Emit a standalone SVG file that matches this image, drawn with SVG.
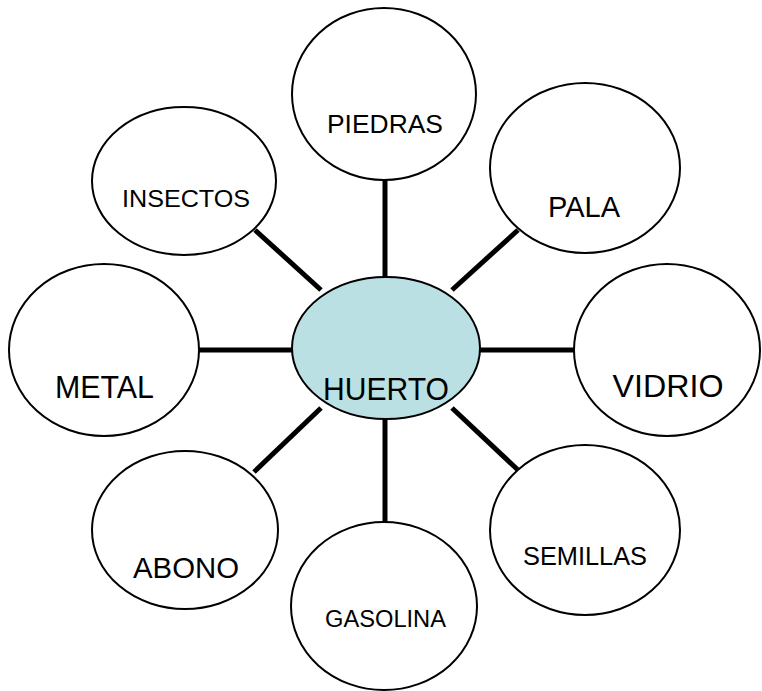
<svg xmlns="http://www.w3.org/2000/svg" width="762" height="691" viewBox="0 0 762 691">
<style>
.n{fill:#ffffff;stroke:#000;stroke-width:2}
.c{fill:#bbe0e3;stroke:#000;stroke-width:2}
.l{fill:#000;font-family:"Liberation Sans",Arial,sans-serif;text-anchor:middle}
.e{stroke:#000;stroke-width:5;fill:none}
</style>
<rect width="762" height="691" fill="#ffffff"/>
<g id="connectors">
<line class="e" x1="385" y1="180" x2="385" y2="280"/>
<line class="e" x1="385" y1="417" x2="385" y2="523"/>
<line class="e" x1="198" y1="350" x2="293" y2="350"/>
<line class="e" x1="479" y1="350" x2="575" y2="350"/>
<line class="e" x1="255" y1="230" x2="321" y2="290"/>
<line class="e" x1="518" y1="230" x2="452" y2="290"/>
<line class="e" x1="321" y1="408" x2="254" y2="472"/>
<line class="e" x1="452" y1="408" x2="518" y2="470"/>
</g>
<g id="piedras"><ellipse class="n" cx="384" cy="94" rx="92" ry="86"/><text class="l" x="385" y="133" font-size="25" textLength="116" lengthAdjust="spacingAndGlyphs">PIEDRAS</text></g>
<g id="insectos"><ellipse class="n" cx="184" cy="181" rx="92" ry="74"/><text class="l" x="186" y="207" font-size="23" textLength="128" lengthAdjust="spacingAndGlyphs">INSECTOS</text></g>
<g id="pala"><ellipse class="n" cx="585" cy="168" rx="95" ry="85"/><text class="l" x="584" y="217" font-size="30" textLength="72" lengthAdjust="spacingAndGlyphs">PALA</text></g>
<g id="metal"><ellipse class="n" cx="104" cy="350" rx="95" ry="86"/><text class="l" x="104.5" y="398" font-size="31" textLength="99" lengthAdjust="spacingAndGlyphs">METAL</text></g>
<g id="vidrio"><ellipse class="n" cx="667" cy="350" rx="93" ry="86"/><text class="l" x="668" y="397" font-size="31" textLength="111" lengthAdjust="spacingAndGlyphs">VIDRIO</text></g>
<g id="huerto"><ellipse class="c" cx="386" cy="348" rx="94" ry="71"/><text class="l" x="386" y="400" font-size="32" textLength="126" lengthAdjust="spacingAndGlyphs">HUERTO</text></g>
<g id="abono"><ellipse class="n" cx="185" cy="530" rx="93" ry="79"/><text class="l" x="186" y="578" font-size="30" textLength="106" lengthAdjust="spacingAndGlyphs">ABONO</text></g>
<g id="semillas"><ellipse class="n" cx="585" cy="530" rx="95" ry="85"/><text class="l" x="585" y="565" font-size="25" textLength="124" lengthAdjust="spacingAndGlyphs">SEMILLAS</text></g>
<g id="gasolina"><ellipse class="n" cx="384" cy="606" rx="93" ry="84"/><text class="l" x="385.5" y="627" font-size="23.5" textLength="121" lengthAdjust="spacingAndGlyphs">GASOLINA</text></g>
</svg>
